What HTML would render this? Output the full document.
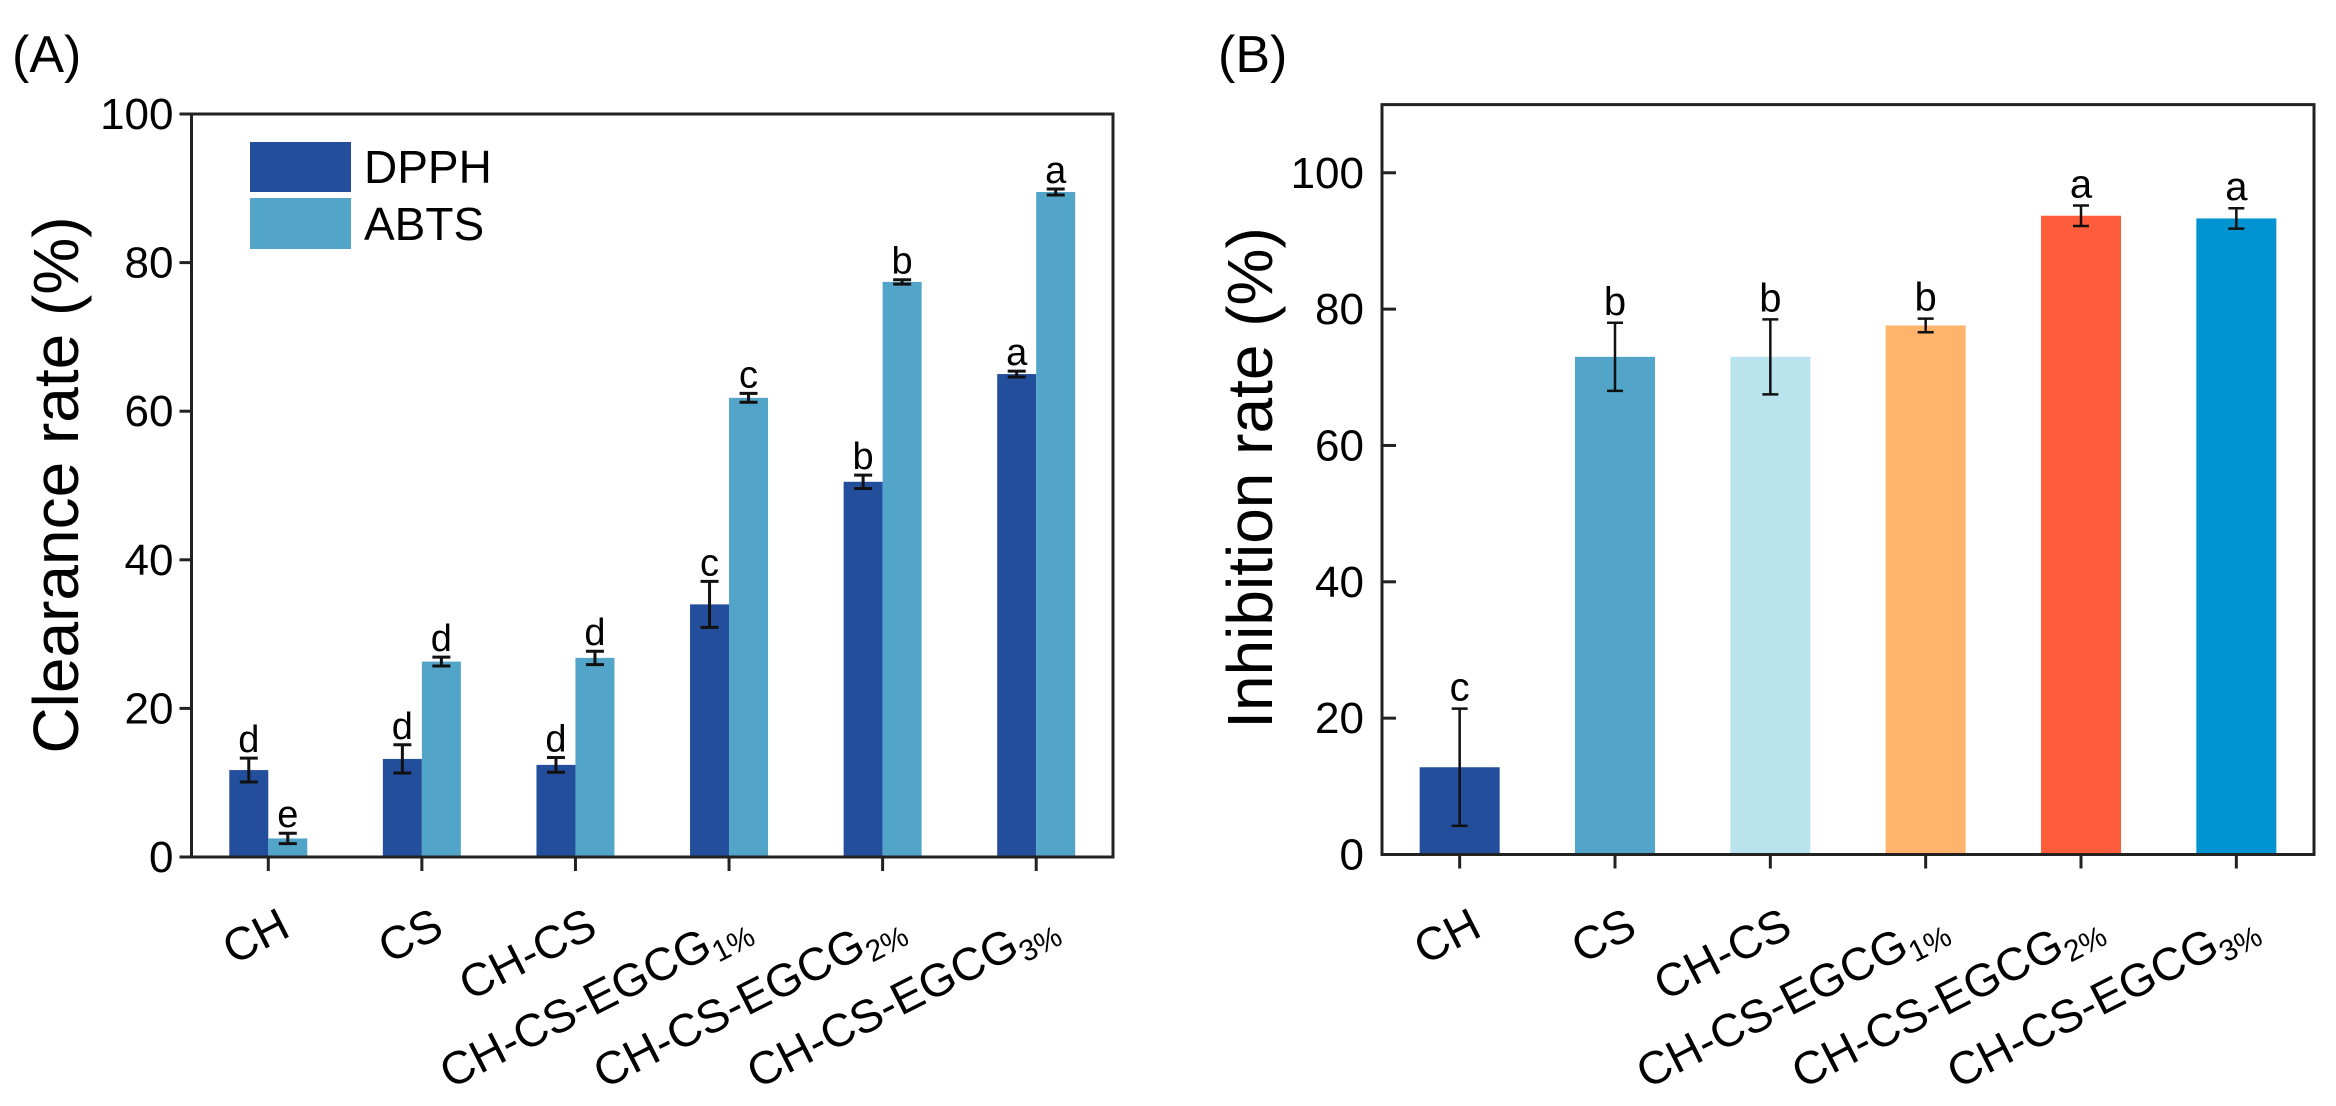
<!DOCTYPE html>
<html><head><meta charset="utf-8"><style>
html,body{margin:0;padding:0;background:#fff;}
svg{display:block;font-family:"Liberation Sans",Arial,sans-serif;}
</style></head><body>
<svg id="fig" width="2336" height="1106" viewBox="0 0 2336 1106" xmlns="http://www.w3.org/2000/svg">
<text x="12" y="72" font-size="52">(A)</text>
<text x="1218" y="72" font-size="52">(B)</text>
<g id="pa"></g>
<g id="pb"></g>
</svg>
<script>
// ---- Panel A data ----
const catsA = ["CH","CS","CH-CS","CH-CS-EGCG|1%","CH-CS-EGCG|2%","CH-CS-EGCG|3%"];
const dpph = [11.7, 13.2, 12.4, 34.0, 50.5, 65.0];
const dpphErr = [1.6, 1.9, 1.0, 3.1, 0.9, 0.4];
const dpphLetters = ["d","d","d","c","b","a"];
const abts = [2.5, 26.3, 26.8, 61.8, 77.4, 89.5];
const abtsErr = [0.7, 0.6, 0.9, 0.6, 0.3, 0.4];
const abtsLetters = ["e","d","d","c","b","a"];
const ticksA = [0,20,40,60,80,100];
// ---- Panel B data ----
const catsB = ["CH","CS","CH-CS","CH-CS-EGCG|1%","CH-CS-EGCG|2%","CH-CS-EGCG|3%"];
const inhib = [12.8, 73.0, 73.0, 77.6, 93.7, 93.3];
const inhibErr = [8.6, 5.0, 5.5, 1.0, 1.5, 1.5];
const inhibLetters = ["c","b","b","b","a","a"];
const ticksB = [0,20,40,60,80,100];
const colorsB = ["#234e9c","#52a5c8","#b9e4ed","#ffb36b","#ff5c3b","#0093d1"];

const NS="http://www.w3.org/2000/svg";
function mk(parent,tag,attrs){const e=document.createElementNS(NS,tag);for(const k in attrs)e.setAttribute(k,attrs[k]);parent.appendChild(e);return e;}

function xLabel(g,label,x,y){
  const parts=label.split("|");
  const t=mk(g,"text",{x:x,y:y,"font-size":46,"text-anchor":"end",transform:`rotate(-27 ${x} ${y})`,fill:"#000"});
  
  
  t.appendChild(document.createTextNode(parts[0]));
  if(parts[1]){const s=mk(t,"tspan",{"font-size":30,dy:9});s.textContent=parts[1];}
}

function errBar(g,x,yTop,yBot,cap,sw){
  const p=mk(g,"path",{d:`M${x} ${yTop}V${yBot}M${x-cap} ${yTop}H${x+cap}M${x-cap} ${yBot}H${x+cap}`,stroke:"#111","stroke-width":sw,fill:"none"});
  
  
}

// ---- Panel A ----
(function(){
  const g=document.getElementById("pa");
  const L=191.5,R=1113,T=114,B=857,ymax=100;
  const n=catsA.length, step=(R-L)/n;
  const y=v=>B-(v/ymax)*(B-T);
  const xc=i=>L+step*(i+0.5);
  const bw=39;
  for(let i=0;i<n;i++){
    const r1=mk(g,"rect",{x:xc(i)-bw,y:y(dpph[i]),width:bw,height:B-y(dpph[i]),fill:"#234e9c"});
    
    
    const r2=mk(g,"rect",{x:xc(i),y:y(abts[i]),width:bw,height:B-y(abts[i]),fill:"#52a5c8"});
    
    
    errBar(g,xc(i)-bw/2,y(dpph[i]+dpphErr[i]),y(dpph[i]-dpphErr[i]),9,3);
    errBar(g,xc(i)+bw/2,y(abts[i]+abtsErr[i]),y(abts[i]-abtsErr[i]),9,3);
    const l1=mk(g,"text",{x:xc(i)-bw/2,y:y(dpph[i]+dpphErr[i])-6,"font-size":38,"text-anchor":"middle"});
    l1.textContent=dpphLetters[i];
    
    
    const l2=mk(g,"text",{x:xc(i)+bw/2,y:y(abts[i]+abtsErr[i])-6,"font-size":38,"text-anchor":"middle"});
    l2.textContent=abtsLetters[i];
    
    
    const tk=mk(g,"line",{x1:xc(i),x2:xc(i),y1:B,y2:B+14,stroke:"#222","stroke-width":3});
    
    
    xLabel(g,catsA[i],xc(i)+24,935);
  }
  const box=mk(g,"rect",{x:L,y:T,width:R-L,height:B-T,fill:"none",stroke:"#222","stroke-width":3});
  
  
  ticksA.forEach(v=>{
    const tk=mk(g,"line",{x1:L-12,x2:L,y1:y(v),y2:y(v),stroke:"#222","stroke-width":3});
    
    
    const t=mk(g,"text",{x:L-18,y:y(v)+15,"font-size":44,"text-anchor":"end"});
    t.textContent=v;
    
    
  });
  const yt=mk(g,"text",{x:78,y:485,"font-size":64,"text-anchor":"middle",transform:"rotate(-90 78 485)"});
  yt.textContent="Clearance rate (%)";
  
  
  const lg=mk(g,"g",{});
  
  
  const s1=mk(lg,"rect",{x:250,y:142,width:101,height:50,fill:"#234e9c"});
  
  
  const s2=mk(lg,"rect",{x:250,y:198,width:101,height:51,fill:"#52a5c8"});
  
  
  const t1=mk(lg,"text",{x:364,y:183,"font-size":46});t1.textContent="DPPH";
  
  
  const t2=mk(lg,"text",{x:364,y:240,"font-size":46});t2.textContent="ABTS";
  
  
})();

// ---- Panel B ----
(function(){
  const g=document.getElementById("pb");
  const L=1382,R=2314,T=104.6,B=854.5,ymax=110;
  const n=catsB.length, step=(R-L)/n;
  const y=v=>B-(v/ymax)*(B-T);
  const xc=i=>L+step*(i+0.5);
  const bw=80;
  for(let i=0;i<n;i++){
    const r=mk(g,"rect",{x:xc(i)-bw/2,y:y(inhib[i]),width:bw,height:B-y(inhib[i]),fill:colorsB[i]});
    
    
    errBar(g,xc(i),y(inhib[i]+inhibErr[i]),y(inhib[i]-inhibErr[i]),8,2.5);
    const l=mk(g,"text",{x:xc(i),y:y(inhib[i]+inhibErr[i])-8,"font-size":40,"text-anchor":"middle"});
    l.textContent=inhibLetters[i];
    
    
    const tk=mk(g,"line",{x1:xc(i),x2:xc(i),y1:B,y2:B+14,stroke:"#222","stroke-width":3});
    
    
    xLabel(g,catsB[i],xc(i)+24,935);
  }
  const box=mk(g,"rect",{x:L,y:T,width:R-L,height:B-T,fill:"none",stroke:"#222","stroke-width":3});
  
  
  ticksB.forEach(v=>{
    const tk=mk(g,"line",{x1:L,x2:L+14,y1:y(v),y2:y(v),stroke:"#222","stroke-width":3});
    
    
    const t=mk(g,"text",{x:L-18,y:y(v)+15,"font-size":44,"text-anchor":"end"});
    t.textContent=v;
    
    
  });
  const yt=mk(g,"text",{x:1272,y:478,"font-size":64,"text-anchor":"middle",transform:"rotate(-90 1272 478)"});
  yt.textContent="Inhibition rate (%)";
  
  
})();
</script>
</body></html>
